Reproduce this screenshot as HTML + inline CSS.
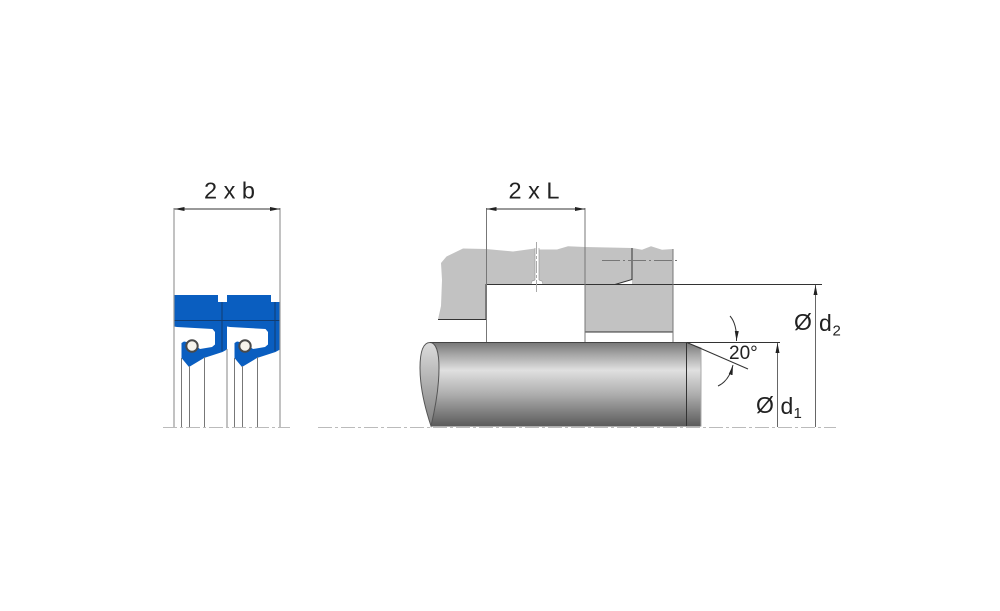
<!DOCTYPE html>
<html>
<head>
<meta charset="utf-8">
<style>
html,body{margin:0;padding:0;background:#fff}
svg{display:block}
text{font-family:"Liberation Sans",sans-serif;fill:#222}
</style>
</head>
<body>
<svg width="1000" height="611" viewBox="0 0 1000 611" xmlns="http://www.w3.org/2000/svg">
<defs>
<linearGradient id="rod" x1="0" y1="0" x2="0" y2="1">
<stop offset="0" stop-color="#777"/>
<stop offset=".15" stop-color="#a8a8a8"/>
<stop offset=".33" stop-color="#e0e0e0"/>
<stop offset=".62" stop-color="#adadad"/>
<stop offset="1" stop-color="#5a5a5a"/>
</linearGradient>
<linearGradient id="cap" x1="0" y1="0" x2="0" y2="1">
<stop offset="0" stop-color="#dcdcdc"/>
<stop offset="1" stop-color="#808080"/>
</linearGradient>
<g id="seal">
<path d="M174 295H218V302H227V349.500L222.500 352L204 358L189 367L181.500 358V343L184 341.500L192 343L200 349L212 347L215 344.500V332L212.500 329L177 327L174 326.500Z" fill="#0a5ec0"/>
<path d="M174 320.500H227M222 302V351" stroke="#123c70" stroke-width="1" fill="none"/>
<circle cx="192" cy="346" r="5.700" fill="#f6f3ec" stroke="#4a4a4a" stroke-width="2"/>
</g>
<marker id="a" viewBox="0 0 10 4" refX="10" refY="2" markerWidth="10" markerHeight="4.400" orient="auto-start-reverse" markerUnits="userSpaceOnUse"><path d="M0 0L10 2L0 4Z" fill="#222"/></marker>
</defs>

<path d="M163 427.500H290M318 427.500H836" stroke="#bbb" stroke-width="1" stroke-dasharray="14 3 3 3" fill="none"/>

<!-- seals -->
<use href="#seal"/>
<use href="#seal" x="53"/>
<g stroke="#999" stroke-width="1.200" fill="none">
<path d="M174 208V427M280 208V427M227 349V427"/>
</g>
<g stroke="#777" stroke-width="1" fill="none">
<path d="M181.500 358V427M189.500 366V427M204.500 357V427M234.500 358V427M242.500 366V427M257.500 357V427"/>
</g>
<path d="M174.500 209H280" stroke="#333" stroke-width="1" marker-start="url(#a)" marker-end="url(#a)"/>

<!-- housing -->
<path d="M438 319.500L441 306L442 280L441 263L446.500 256.500L463 248.500L486 249L513 251.500L535 248.500L540 249.500L557 249.500L568 246.300L585 247L632 248L642 249.700L651 246.300L662 249.700L673 249V332H585V284.500H486V319.500Z" fill="#c2c2c2"/>
<path d="M535 248V280L531.500 281L530.500 284.500H543.500L542.500 281L539 280V248Z" fill="#fff"/>
<path d="M615 284.500L632 279.500V284.500Z" fill="#fff"/>
<path d="M535 248V280M539 248V280M531 284L532 281L535 280M539 280L542 281L543 284" stroke="#999" stroke-width=".7" fill="none"/>
<g stroke="#333" stroke-width="1" fill="none">
<path d="M438 319.500H486V284.500H822"/>
<path d="M585 332H673"/>
<path d="M615 284.500L632 279.500V248"/>
</g>
<g stroke="#777" stroke-width="1" fill="none">
<path d="M486.500 208V342M585 208V342M673 249V342"/>
</g>
<path d="M536.500 242V292" stroke="#aaa" stroke-width="1" stroke-dasharray="12 2 3 2" fill="none"/>
<path d="M602 260.500H680" stroke="#777" stroke-width="1" stroke-dasharray="18 3 2 3" fill="none"/>
<path d="M486.500 209H585" stroke="#333" stroke-width="1" marker-start="url(#a)" marker-end="url(#a)"/>

<!-- rod -->
<path d="M430 342.500H687L701 347.500V426.500H431Z" fill="url(#rod)"/>
<path d="M431 426C424 405 420 385 420 368C420 350 424 342.500 430 342.500C436 342.500 439 352 439 368C439 385 436 405 431 426Z" fill="url(#cap)" stroke="#555" stroke-width="1"/>
<path d="M430 342.500H687" stroke="#444" stroke-width="1"/>
<path d="M686.500 342.500V426" stroke="#333" stroke-width="1"/>
<path d="M701 347.500V426.500" stroke="#aaa" stroke-width="1"/>

<!-- dimensions -->
<path d="M687 342.500H780M687 342.500L748 369" stroke="#333" stroke-width="1" fill="none"/>
<path d="M777.500 427V343" stroke="#666" stroke-width="1" marker-end="url(#a)"/>
<path d="M815.500 427V285" stroke="#666" stroke-width="1" marker-end="url(#a)"/>
<path d="M730 316Q737 324 736.500 341" stroke="#333" stroke-width="1" fill="none" marker-end="url(#a)"/>
<path d="M718 386Q729 381 733 365" stroke="#333" stroke-width="1" fill="none" marker-end="url(#a)"/>

<!-- labels -->
<text x="229.500" y="198.500" font-size="23.500" text-anchor="middle">2 x b</text>
<text x="534" y="198.500" font-size="23.500" text-anchor="middle">2 x L</text>
<text x="729" y="359" font-size="19">20°</text>
<text x="794" y="330" font-size="23">Ø</text>
<text x="819" y="331" font-size="23">d</text>
<text x="832.500" y="335.500" font-size="15">2</text>
<text x="756" y="413" font-size="23">Ø</text>
<text x="780.500" y="414" font-size="23">d</text>
<text x="793.500" y="418" font-size="15">1</text>
</svg>
</body>
</html>
